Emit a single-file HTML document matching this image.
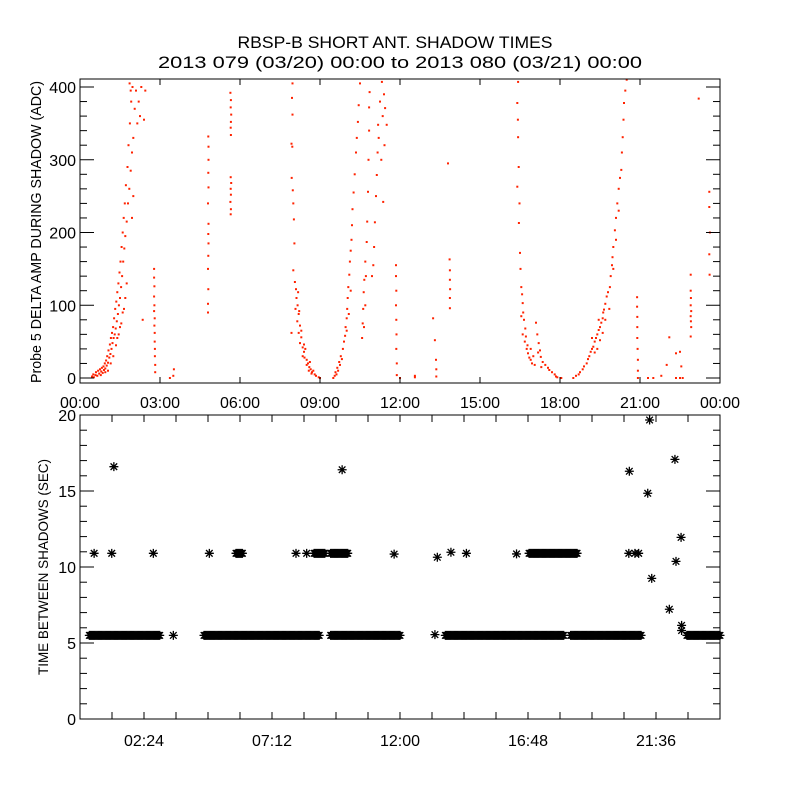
<!DOCTYPE html>
<html><head><meta charset="utf-8"><style>
html,body{margin:0;padding:0;background:#fff;}
svg{display:block;font-family:"Liberation Sans",sans-serif;}
</style></head><body>
<svg id="chart" width="800" height="800" viewBox="0 0 800 800" xmlns="http://www.w3.org/2000/svg">
<rect width="800" height="800" fill="#fff"/>
<text x="395" y="48" font-size="17" text-anchor="middle" textLength="315" lengthAdjust="spacingAndGlyphs">RBSP-B SHORT ANT. SHADOW TIMES</text>
<text x="400" y="68" font-size="17" text-anchor="middle" textLength="484" lengthAdjust="spacingAndGlyphs">2013 079 (03/20) 00:00 to 2013 080 (03/21) 00:00</text>
<g id="topPanel"></g>
<g id="botPanel"></g>
</svg>
<script>
// ---- top panel data: [hour, ADC amplitude] ----
const riseA=[[0.45,2],[0.5,5],[0.52,1],[0.58,4],[0.6,8],[0.65,3],[0.68,10],[0.72,6],[0.75,12],[0.78,4],[0.8,9],[0.82,14],[0.85,7],[0.88,16],[0.9,11],[0.93,20],[0.95,13],[0.98,24],[1.0,17],[1.02,30],[1.05,21],[1.07,38],[1.1,28],[1.12,46],[1.14,33],[1.16,55],[1.18,40],[1.2,62],[1.22,48],[1.24,70],[1.26,55],[1.28,82],[1.3,60],[1.32,95],[1.34,68],[1.36,105],[1.38,78],[1.4,118],[1.42,88],[1.44,130],[1.46,100],[1.48,145],[1.5,110],[1.52,160],[1.54,125],[1.56,180],[1.58,140],[1.6,200],[1.62,160],[1.64,220],[1.66,178],[1.68,240],[1.7,195],[1.72,265],[1.75,215],[1.78,290],[1.8,240],[1.82,320],[1.85,260],[1.87,350],[1.9,285],[1.92,380],[1.95,310],[1.97,400],[2.0,330],[2.05,370],[2.1,395],[2.15,350],[2.2,380],[2.25,360],[2.3,400],[2.4,355],[2.45,395],[1.86,405],[1.9,395],[1.25,30],[1.15,20],[1.35,45],[1.45,60],[1.55,75],[1.65,95],[1.75,130],[1.7,110],[1.6,90],[1.5,70],[1.4,55],[2.0,250],[1.95,220],[1.05,10],[0.95,8],[2.35,80]];
const lineB=[[2.78,150],[2.78,138],[2.79,126],[2.78,112],[2.79,100],[2.78,92],[2.8,82],[2.79,72],[2.8,62],[2.8,50],[2.81,40],[2.81,30],[2.82,18],[2.82,8],[3.37,0],[3.5,3],[3.52,12]];
const lineC=[[4.8,90],[4.8,102],[4.81,122],[4.8,150],[4.81,168],[4.82,185],[4.81,198],[4.82,212],[4.8,240],[4.82,262],[4.81,282],[4.82,300],[4.82,318],[4.81,332]];
const lineD=[[5.65,225],[5.66,232],[5.64,242],[5.66,252],[5.65,260],[5.67,268],[5.65,276],[5.66,334],[5.65,344],[5.66,352],[5.67,362],[5.65,372],[5.66,382],[5.64,392]];
const fallE=[[7.97,405],[7.95,385],[7.97,362],[7.93,322],[7.96,318],[7.94,275],[7.98,258],[8.0,240],[8.02,218],[8.04,185],[8.0,148],[8.06,132],[8.1,122],[8.12,110],[8.16,100],[8.08,95],[8.2,88],[8.15,78],[8.25,72],[8.2,62],[8.3,56],[8.25,48],[8.35,42],[8.4,36],[8.42,28],[8.5,25],[8.55,20],[8.6,15],[8.65,12],[8.7,8],[8.75,10],[8.8,5],[8.85,3],[8.95,1],[8.3,65],[8.4,46],[8.5,18],[8.62,22],[7.93,62],[8.18,118],[8.22,92],[8.35,30],[8.45,40],[8.58,10],[8.68,6],[9.0,0]];
const riseF=[[9.5,0],[9.55,3],[9.58,8],[9.62,5],[9.65,14],[9.68,10],[9.72,22],[9.75,18],[9.78,30],[9.82,26],[9.86,40],[9.9,50],[9.94,58],[9.96,70],[10.0,82],[10.02,95],[10.04,110],[10.06,125],[10.1,142],[10.12,160],[10.15,175],[10.18,190],[10.2,210],[10.22,232],[10.26,255],[10.3,280],[10.35,310],[10.38,330],[10.42,352],[10.45,375],[10.5,405],[10.0,65],[10.08,88],[10.15,120],
[10.58,55],[10.6,75],[10.62,95],[10.64,118],[10.66,135],[10.7,160],[10.75,187],[10.77,215],[10.8,256],[10.82,300],[10.84,340],[10.84,372],[10.86,393],[10.65,70],[10.7,100],[10.72,140],
[10.95,140],[11.0,155],[11.03,180],[11.06,214],[11.1,250],[11.13,279],[11.16,310],[11.18,348],[11.25,380],[11.32,407],[11.4,390],[11.44,371],[11.5,348],[11.37,242],[11.3,300],[11.2,330],[11.35,360],[11.42,320],
[11.85,155],[11.85,140],[11.86,120],[11.85,100],[11.86,80],[11.87,60],[11.86,40],[11.88,20],[11.88,4],[12.0,0],[12.56,1]];
const midPts=[[12.56,3],[13.24,82],[13.31,52],[13.35,25],[13.36,12],[13.36,2],[13.8,295],[13.86,163],[13.87,148],[13.87,135],[13.88,122],[13.87,110],[13.87,96]];
const fallG=[[16.43,407],[16.4,378],[16.43,331],[16.4,263],[16.46,213],[16.5,172],[16.52,150],[16.55,125],[16.6,103],[16.58,115],[16.62,90],[16.65,80],[16.7,68],[16.72,57],[16.78,45],[16.8,34],[16.85,28],[16.9,25],[16.75,40],[16.68,50],[16.95,20],[17.1,76],[17.15,60],[17.2,48],[17.25,38],[17.28,29],[17.18,35],[17.35,22],[17.45,18],[17.55,14],[17.6,11],[17.7,8],[17.8,5],[17.85,2],[17.9,1],[18.05,0],[17.0,30],[16.9,40],[17.05,18],[17.3,15],[16.6,60],[16.55,85],[16.45,290],[16.48,240],[16.42,355]];
const riseH=[[18.5,0],[18.6,3],[18.7,5],[18.75,8],[18.85,12],[18.9,16],[19.0,20],[19.05,26],[19.1,30],[19.15,36],[19.2,40],[19.25,43],[19.3,50],[19.35,55],[19.4,60],[19.45,66],[19.5,70],[19.55,76],[19.6,82],[19.62,90],[19.65,94],[19.7,102],[19.75,112],[19.8,118],[19.87,125],[19.9,140],[19.95,155],[19.97,166],[20.0,180],[20.06,203],[20.1,220],[20.15,240],[20.2,260],[20.25,275],[20.3,286],[20.32,310],[20.35,331],[20.38,355],[20.4,378],[20.45,395],[20.5,410],[19.4,40],[19.5,52],[19.6,62],[19.3,35],[19.7,80],[19.85,95],[20.0,150],[20.1,190],[20.2,230],[19.2,55],[19.45,80]];
const lateI=[[20.89,111],[20.89,98],[20.9,84],[20.9,70],[20.9,55],[20.91,40],[20.92,25],[20.92,10],[20.92,0],[21.3,0],[21.5,0],[21.8,3],[22.0,18],[22.1,56],[22.35,34],[22.5,36],[22.55,16],[22.35,0],[22.5,0],[22.6,0],[22.9,142],[22.9,120],[22.91,110],[22.9,100],[22.92,92],[22.9,85],[22.91,78],[22.92,70],[22.9,57],[23.2,384],[23.6,256],[23.6,235],[23.62,200],[23.6,170],[23.61,142]];
const topXLabels=["00:00","03:00","06:00","09:00","12:00","15:00","18:00","21:00","00:00"];
const topYTicks=[0,100,200,300,400];

// ---- bottom panel data ----
const bandStart=[0.35,4.65,9.4,13.7,18.4,22.76,16.84,5.85,8.78,9.4];
const bandEnd=[3.0,9.0,12.0,18.15,21.06,24.0,18.67,6.1,9.19,10.04];
const bandValue=[5.5,5.5,5.5,5.5,5.5,5.5,10.9,10.9,10.9,10.9];
const starHours=[0.53,1.19,2.75,4.85,8.1,8.5,11.78,1.27,9.83,3.5,13.4,13.91,14.49,16.37,13.31,20.6,21.36,21.29,20.58,20.81,20.95,21.44,22.31,22.54,22.35,22.1,22.56,22.56];
const starValues=[10.9,10.9,10.9,10.9,10.9,10.9,10.85,16.6,16.4,5.5,10.64,10.97,10.9,10.86,5.55,16.3,19.67,14.85,10.9,10.9,10.9,9.25,17.08,11.95,10.37,7.22,6.16,5.82];
const botXLabels=["02:24","07:12","12:00","16:48","21:36"];
const botYTicks=[0,5,10,15,20];

const NS="http://www.w3.org/2000/svg";
function mk(tag,attrs,parent){const e=document.createElementNS(NS,tag);for(const k in attrs)e.setAttribute(k,attrs[k]);parent.appendChild(e);return e;}
const PL=80,PR=720;
function xs(h){return PL+h/24*(PR-PL);}
// top
const T0=79,T1=383;
function ty(v){return 378-v*0.7275;}
const topG=document.getElementById('topPanel');
[riseA,lineB,lineC,lineD,fallE,riseF,midPts,fallG,riseH,lateI].forEach(arr=>arr.forEach(p=>{
  const r=mk('rect',{x:(xs(p[0])-1).toFixed(1),y:(ty(p[1])-1).toFixed(1),width:2,height:2,fill:'#ff2200'},topG);
  
  
}));
const tf=mk('rect',{x:PL,y:T0,width:PR-PL,height:T1-T0,fill:'none',stroke:'#000','stroke-width':1},topG);


for(let v=0;v<=400;v+=20){const y=ty(v);const len=(v%100===0)?14:7;
  mk('line',{x1:PL,x2:PL+len,y1:y,y2:y,stroke:'#000'},topG);mk('line',{x1:PR,x2:PR-len,y1:y,y2:y,stroke:'#000'},topG);}
topYTicks.forEach(v=>{const t=mk('text',{x:76,y:ty(v)+6,'font-size':16,'text-anchor':'end'},topG);t.textContent=v;
  
  });
topXLabels.forEach((s,i)=>{const x=xs(i*3);
  mk('line',{x1:x,x2:x,y1:T1,y2:T1-6,stroke:'#000'},topG);mk('line',{x1:x,x2:x,y1:T0,y2:T0+6,stroke:'#000'},topG);
  const t=mk('text',{x:x,y:408,'font-size':16,'text-anchor':'middle'},topG);t.textContent=s;
  
  });
const yt=mk('text',{x:0,y:0,'font-size':15,'text-anchor':'middle',transform:'translate(41,232) rotate(-90)',textLength:302,lengthAdjust:'spacingAndGlyphs'},topG);
yt.textContent='Probe 5 DELTA AMP DURING SHADOW (ADC)';


// bottom
const B0=415,B1=719;
function by(v){return B1-v*(B1-B0)/20;}
const botG=document.getElementById('botPanel');
function star(h,v){const x=xs(h),y=by(v),s=4.5,d=3.3;
  return mk('path',{d:`M${x-s} ${y}H${x+s}M${x} ${y-s}V${y+s}M${x-d} ${y-d}L${x+d} ${y+d}M${x-d} ${y+d}L${x+d} ${y-d}`,stroke:'#000','stroke-width':1.3,fill:'none'},botG);}
bandStart.forEach((s,i)=>{for(let h=s;h<=bandEnd[i]+1e-6;h+=0.04){const p=star(h,bandValue[i]);
  
  }});
starHours.forEach((h,i)=>{const p=star(h,starValues[i]);
  
  });
const bf=mk('rect',{x:PL,y:B0,width:PR-PL,height:B1-B0,fill:'none',stroke:'#000','stroke-width':1},botG);


for(let v=0;v<=20;v++){const y=by(v);const len=(v%5===0)?14:7;
  mk('line',{x1:PL,x2:PL+len,y1:y,y2:y,stroke:'#000'},botG);mk('line',{x1:PR,x2:PR-len,y1:y,y2:y,stroke:'#000'},botG);}
botYTicks.forEach(v=>{const t=mk('text',{x:76,y:by(v)+6,'font-size':16,'text-anchor':'end'},botG);t.textContent=v;
  
  });
for(let k=1;k<20;k++){const x=xs(k*1.2);
  mk('line',{x1:x,x2:x,y1:B1,y2:B1-7,stroke:'#000'},botG);mk('line',{x1:x,x2:x,y1:B0,y2:B0+7,stroke:'#000'},botG);}
botXLabels.forEach((s,i)=>{const t=mk('text',{x:xs(2.4+i*4.8),y:746,'font-size':16,'text-anchor':'middle'},botG);t.textContent=s;
  
  });
const yb=mk('text',{x:0,y:0,'font-size':14,'text-anchor':'middle',transform:'translate(48,567) rotate(-90)',textLength:216,lengthAdjust:'spacingAndGlyphs'},botG);
yb.textContent='TIME BETWEEN SHADOWS (SEC)';


</script>
</body></html>
